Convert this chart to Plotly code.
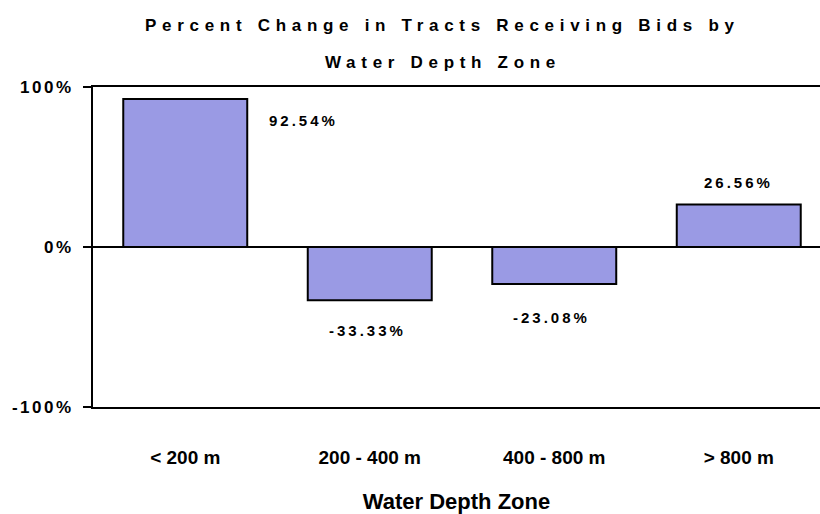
import plotly.graph_objects as go

categories = ["< 200 m", "200 - 400 m", "400 - 800 m", "> 800 m"]
values = [92.54, -33.33, -23.08, 26.56]
value_labels = ["92.54%", "-33.33%", "-23.08%", "26.56%"]
y_tickvals = [-100, 0, 100]
y_ticktext = ["-100%", "0%", "100%"]
title_lines = ["Percent Change in Tracts Receiving Bids by", "Water Depth Zone"]
x_title = "Water Depth Zone"

FONT = "Liberation Sans, Arial, sans-serif"
BAR_COLOR = "#9A9AE4"


def spaced(t, px):
    return f'<span style="letter-spacing:{px}px">{t}</span>'


fig = go.Figure()
fig.add_trace(go.Bar(
    x=list(range(len(categories))),
    y=values,
    width=0.672,
    marker=dict(color=BAR_COLOR, line=dict(color="black", width=2)),
    hoverinfo="skip",
))

# label offsets (pixels) mimicking the original placement
shifts = [(118, -22), (-2, -30), (-3, -34), (0, 22)]
for i, (lab, v) in enumerate(zip(value_labels, values)):
    dx, dy = shifts[i]
    fig.add_annotation(
        x=i, y=v, xref="x", yref="y",
        text=spaced(lab, 3),
        showarrow=False, xshift=dx, yshift=dy,
        font=dict(family=FONT, size=15, color="black", weight="bold"),
    )

for line, ypos in zip(title_lines, [1.193, 1.078]):
    fig.add_annotation(
        x=0.481, y=ypos, xref="paper", yref="paper",
        xanchor="center", yanchor="middle",
        text=spaced(line, 5.7), showarrow=False,
        font=dict(family=FONT, size=17, color="black", weight="bold"),
    )

fig.update_layout(
    width=820, height=514,
    margin=dict(l=93, r=0, t=87, b=107),
    paper_bgcolor="white", plot_bgcolor="white",
    showlegend=False,
    font=dict(family=FONT, color="black"),
)

fig.update_xaxes(
    range=[-0.5, -0.5 + 727 / 184.5],
    tickvals=list(range(len(categories))), ticktext=categories,
    showgrid=False, zeroline=False,
    showline=True, mirror=True, linecolor="black", linewidth=2,
    ticks="",
    ticklabelstandoff=32,
    tickfont=dict(family=FONT, size=19, color="black", weight="bold"),
    title=dict(text=x_title, standoff=28,
               font=dict(family=FONT, size=22, color="black", weight="bold")),
)
fig.update_yaxes(
    range=[-100, 100],
    tickvals=y_tickvals, ticktext=[spaced(t, 2.5) for t in y_ticktext],
    showgrid=False,
    zeroline=True, zerolinecolor="black", zerolinewidth=2,
    showline=True, linecolor="black", linewidth=2,
    ticks="outside", ticklen=8, tickwidth=2, tickcolor="black",
    ticklabelstandoff=6,
    tickfont=dict(family=FONT, size=17, color="black", weight="bold"),
)

fig.write_html(
    "out.html",
    config={"displayModeBar": False},
    post_script="document.body.style.margin='0';document.body.style.overflow='hidden';",
)
